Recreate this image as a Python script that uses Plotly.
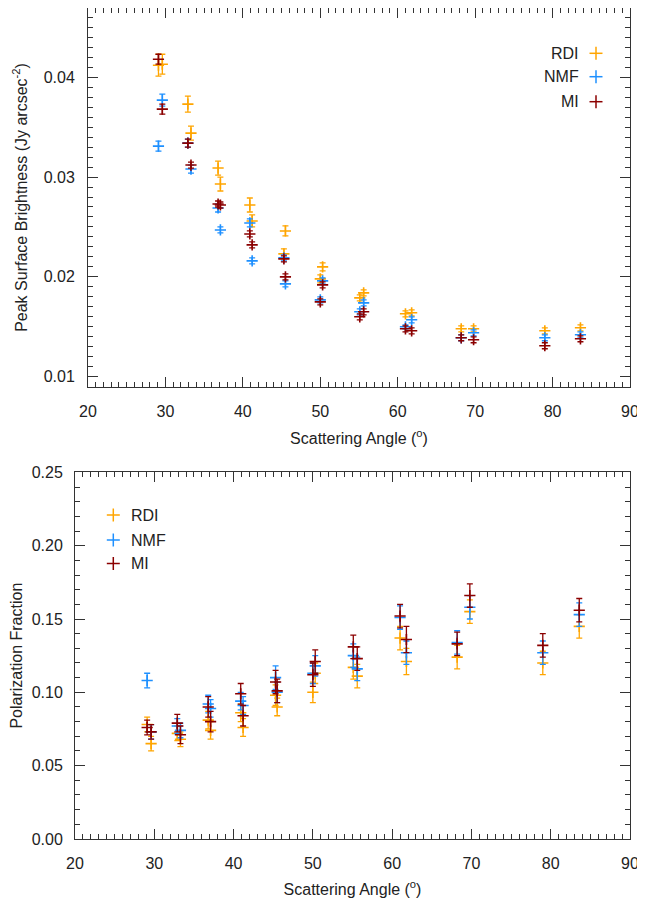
import plotly.graph_objects as go

# ---- data ----
angle = [29.1, 29.6, 32.9, 33.3, 36.8, 37.1, 40.9, 41.2, 45.3, 45.5,
         50.0, 50.3, 55.1, 55.6, 61.0, 61.8, 68.2, 69.8, 79.0, 83.6]

sb_rdi = [0.0412, 0.0413, 0.0373, 0.0344, 0.0309, 0.0293, 0.0272, 0.0256, 0.0223, 0.0246,
          0.0198, 0.0210, 0.0179, 0.0184, 0.0163, 0.0164, 0.0148, 0.0148, 0.0146, 0.0149]
sb_nmf = [0.0331, 0.0377, 0.0334, 0.0308, 0.0269, 0.0247, 0.0254, 0.0216, 0.0219, 0.0193,
          0.0177, 0.0196, 0.0165, 0.0174, 0.0150, 0.0157, 0.0139, 0.0144, 0.0139, 0.0142]
sb_mi = [0.0418, 0.0368, 0.0334, 0.0312, 0.0273, 0.0272, 0.0243, 0.0232, 0.0218, 0.0200,
         0.0175, 0.0192, 0.0160, 0.0165, 0.0148, 0.0146, 0.0139, 0.0137, 0.0131, 0.0138]

sb_rdi_err = [0.0011, 0.0010, 0.0008, 0.0007, 0.0007, 0.0007, 0.0007, 0.0006, 0.0005, 0.0005,
              0.0004, 0.0004, 0.0003, 0.0003, 0.0003, 0.0003, 0.0003, 0.0003, 0.0003, 0.0003]
sb_nmf_err = [0.0005, 0.0006, 0.0004, 0.0004, 0.0004, 0.0003, 0.0004, 0.0003, 0.0003, 0.0003,
              0.0003, 0.0003, 0.0003, 0.0003, 0.0002, 0.0003, 0.0003, 0.0003, 0.0003, 0.0003]
sb_mi_err = [0.0005, 0.0005, 0.0004, 0.0003, 0.0003, 0.0003, 0.0003, 0.0003, 0.0003, 0.0003,
             0.0003, 0.0003, 0.0003, 0.0003, 0.0003, 0.0003, 0.0003, 0.0003, 0.0003, 0.0003]

pf_rdi = [0.078, 0.065, 0.072, 0.068, 0.081, 0.074, 0.086, 0.076, 0.098, 0.090,
          0.100, 0.113, 0.117, 0.111, 0.137, 0.121, 0.124, 0.155, 0.120, 0.145]
pf_nmf = [0.108, 0.073, 0.077, 0.074, 0.092, 0.089, 0.094, 0.091, 0.110, 0.100,
          0.113, 0.118, 0.125, 0.116, 0.151, 0.127, 0.134, 0.158, 0.127, 0.153]
pf_mi = [0.076, 0.073, 0.079, 0.071, 0.090, 0.080, 0.099, 0.084, 0.107, 0.101,
         0.112, 0.121, 0.131, 0.123, 0.152, 0.136, 0.133, 0.166, 0.132, 0.156]

pf_rdi_err = [0.005, 0.005, 0.005, 0.005, 0.006, 0.006, 0.006, 0.006, 0.007, 0.006,
              0.007, 0.007, 0.008, 0.008, 0.008, 0.009, 0.008, 0.008, 0.008, 0.008]
pf_nmf_err = [0.005, 0.005, 0.005, 0.005, 0.006, 0.006, 0.006, 0.006, 0.008, 0.007,
              0.007, 0.007, 0.008, 0.008, 0.008, 0.008, 0.008, 0.008, 0.008, 0.008]
pf_mi_err = [0.005, 0.005, 0.006, 0.006, 0.007, 0.007, 0.007, 0.007, 0.008, 0.008,
             0.008, 0.008, 0.008, 0.008, 0.008, 0.009, 0.008, 0.008, 0.008, 0.008]

series_names = ["RDI", "NMF", "MI"]
series_colors = ["#FFA500", "#1E90FF", "#8B0000"]

x_ticks = [20, 30, 40, 50, 60, 70, 80, 90]
sb_ticks = [0.01, 0.02, 0.03, 0.04]
pf_ticks = [0.00, 0.05, 0.10, 0.15, 0.20, 0.25]

# page body has an 8px margin, so the figure is drawn 8px in from the corner
OFF = 8
W, H = 645 - OFF, 901 - OFF
FONT = "Liberation Sans"
AX = "#333333"
TXT = "#222222"

fig = go.Figure()

top_sets = [(sb_rdi, sb_rdi_err), (sb_nmf, sb_nmf_err), (sb_mi, sb_mi_err)]
bot_sets = [(pf_rdi, pf_rdi_err), (pf_nmf, pf_nmf_err), (pf_mi, pf_mi_err)]

for (vals, errs), name, col in zip(top_sets, series_names, series_colors):
    fig.add_trace(go.Scatter(
        x=angle, y=vals, mode="markers", name=name, showlegend=False,
        xaxis="x", yaxis="y",
        marker=dict(symbol="cross-thin", size=8, line=dict(color=col, width=1.6), color=col),
        error_y=dict(type="data", array=errs, visible=True, color=col, thickness=1.3, width=3),
    ))

for (vals, errs), name, col in zip(bot_sets, series_names, series_colors):
    fig.add_trace(go.Scatter(
        x=angle, y=vals, mode="markers", name=name, showlegend=False,
        xaxis="x2", yaxis="y2",
        marker=dict(symbol="cross-thin", size=8, line=dict(color=col, width=1.6), color=col),
        error_y=dict(type="data", array=errs, visible=True, color=col, thickness=1.3, width=3),
    ))


def px_x(p):
    return (p - OFF) / W


def px_y(p):
    return 1 - (p - OFF) / H


def axis_common():
    return dict(
        showline=True, linecolor=AX, linewidth=1, mirror="allticks",
        ticks="inside", ticklen=10, tickwidth=1, tickcolor=AX,
        showgrid=False, zeroline=False, automargin=False,
        tickfont=dict(family=FONT, size=16, color=TXT),
        minor=dict(ticks="inside", ticklen=5, tickwidth=1, tickcolor=AX, showgrid=False),
    )


xa = axis_common()
xa.update(domain=[px_x(88), px_x(630)], range=[20, 90], tickvals=x_ticks,
          anchor="y", ticklabelstandoff=10,
          title=dict(text="Scattering Angle (<sup>o</sup>)", font=dict(family=FONT, size=16, color=TXT),
                     standoff=13))
xa["minor"].update(dtick=1, tick0=20)

ya = axis_common()
ya.update(domain=[px_y(386.7), px_y(8.3)], range=[0.009, 0.0469], tickvals=sb_ticks,
          tickformat=".2f", anchor="x", ticklabelstandoff=9,
          title=dict(text="Peak Surface Brightness (Jy arcsec<sup>-2</sup>)",
                     font=dict(family=FONT, size=16, color=TXT), standoff=12))
ya["minor"].update(dtick=0.001, tick0=0.01)

xa2 = axis_common()
xa2.update(domain=[px_x(75), px_x(630)], range=[20, 90], tickvals=x_ticks,
           anchor="y2", ticklabelstandoff=10,
           title=dict(text="Scattering Angle (<sup>o</sup>)", font=dict(family=FONT, size=16, color=TXT),
                      standoff=12))
xa2["minor"].update(dtick=1, tick0=20)

ya2 = axis_common()
ya2.update(domain=[px_y(838.9), px_y(472.4)], range=[0, 0.25], tickvals=pf_ticks,
           tickformat=".2f", anchor="x2", ticklabelstandoff=8,
           title=dict(text="Polarization Fraction", font=dict(family=FONT, size=16, color=TXT),
                      standoff=10))
ya2["minor"].update(dtick=0.01, tick0=0)

# ---- hand-drawn legends (marker + text) ----
shapes = []
annotations = []
half = 6.5

top_leg_rows = [53.3, 76.7, 101.7]
for name, col, cy in zip(series_names, series_colors, top_leg_rows):
    cx = 596
    shapes.append(dict(type="line", xref="paper", yref="paper",
                       x0=px_x(cx - half), x1=px_x(cx + half), y0=px_y(cy), y1=px_y(cy),
                       line=dict(color=col, width=1.5)))
    shapes.append(dict(type="line", xref="paper", yref="paper",
                       x0=px_x(cx), x1=px_x(cx), y0=px_y(cy - half), y1=px_y(cy + half),
                       line=dict(color=col, width=1.5)))
    annotations.append(dict(text=name, xref="paper", yref="paper", x=px_x(581), y=px_y(cy),
                            xanchor="right", yanchor="middle", showarrow=False,
                            font=dict(family=FONT, size=16, color=TXT)))

bot_leg_rows = [515, 540, 563.5]
for name, col, cy in zip(series_names, series_colors, bot_leg_rows):
    cx = 113.3
    shapes.append(dict(type="line", xref="paper", yref="paper",
                       x0=px_x(cx - half), x1=px_x(cx + half), y0=px_y(cy), y1=px_y(cy),
                       line=dict(color=col, width=1.5)))
    shapes.append(dict(type="line", xref="paper", yref="paper",
                       x0=px_x(cx), x1=px_x(cx), y0=px_y(cy - half), y1=px_y(cy + half),
                       line=dict(color=col, width=1.5)))
    annotations.append(dict(text=name, xref="paper", yref="paper", x=px_x(128.5), y=px_y(cy),
                            xanchor="left", yanchor="middle", showarrow=False,
                            font=dict(family=FONT, size=16, color=TXT)))

fig.update_layout(
    width=W, height=H,
    margin=dict(l=0, r=0, t=0, b=0, pad=0),
    paper_bgcolor="white", plot_bgcolor="white",
    showlegend=False,
    xaxis=xa, yaxis=ya, xaxis2=xa2, yaxis2=ya2,
    shapes=shapes, annotations=annotations,
    font=dict(family=FONT, size=16, color=TXT),
)

fig.write_html("out.html")
